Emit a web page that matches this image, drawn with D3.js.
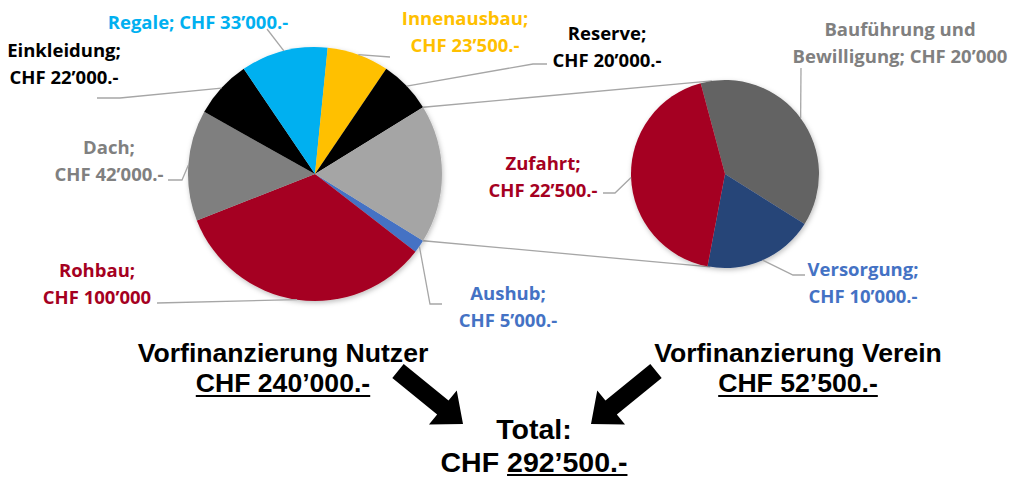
<!DOCTYPE html>
<html>
<head>
<meta charset="utf-8">
<script src="https://cdn.jsdelivr.net/npm/d3@7"></script>
<style>
  body { margin: 0; background: #fff; }
  svg { display: block; }
</style>
</head>
<body>
<div id="chart"></div>
<script>
// Data
const mainCategories = ["Aushub", "Rohbau", "Dach", "Einkleidung", "Regale", "Innenausbau", "Reserve"];
const mainValues = [5000, 100000, 42000, 22000, 33000, 23500, 20000];
const mainLabels = [
  ["Aushub;", "CHF 5’000.-"],
  ["Rohbau;", "CHF 100’000"],
  ["Dach;", "CHF 42’000.-"],
  ["Einkleidung;", "CHF 22’000.-"],
  ["Regale; CHF 33’000.-"],
  ["Innenausbau;", "CHF 23’500.-"],
  ["Reserve;", "CHF 20’000.-"]
];
const subCategories = ["Bauführung und Bewilligung", "Versorgung", "Zufahrt"];
const subValues = [20000, 10000, 22500];
const subLabels = [
  ["Bauführung und", "Bewilligung; CHF 20’000"],
  ["Versorgung;", "CHF 10’000.-"],
  ["Zufahrt;", "CHF 22’500.-"]
];
const summaryNutzer = ["Vorfinanzierung Nutzer", "CHF 240’000.-"];
const summaryVerein = ["Vorfinanzierung Verein", "CHF 52’500.-"];
const summaryTotal = ["Total:", "CHF ", "292’500.-"];

// Styles
const sliceColors = {
  "Aushub": "#4472c4", "Rohbau": "#a50021", "Dach": "#7f7f7f", "Einkleidung": "#000000",
  "Regale": "#00b0f0", "Innenausbau": "#ffc000", "Reserve": "#000000", "other": "#a5a5a5",
  "Bauführung und Bewilligung": "#636363", "Versorgung": "#264478", "Zufahrt": "#a50021"
};
const labelColors = {
  "Aushub": "#4472c4", "Rohbau": "#a50021", "Dach": "#808080", "Einkleidung": "#000000",
  "Regale": "#00b0f0", "Innenausbau": "#ffc000", "Reserve": "#000000",
  "Bauführung und Bewilligung": "#808080", "Versorgung": "#4472c4", "Zufahrt": "#a50021"
};
// label layout: centre x, first baseline, leader points from the label towards the slice
const labelLayout = {
  "Aushub": { x: 508, y: 300, leader: [[442, 304], [430, 304]] },
  "Rohbau": { x: 97, y: 277, leader: [[157, 303]] },
  "Dach": { x: 109, y: 154, leader: [[168, 180], [182, 180]] },
  "Einkleidung": { x: 64, y: 57, leader: [[97, 98], [120, 98]] },
  "Regale": { x: 198, y: 29, leader: [[267, 29]] },
  "Innenausbau": { x: 465, y: 25, leader: [[390, 57]] },
  "Reserve": { x: 607, y: 40, leader: [[547, 64], [533, 64]] },
  "Bauführung und Bewilligung": { x: 900, y: 36, leader: [[801, 68]] },
  "Versorgung": { x: 863, y: 276, leader: [[805, 275], [793, 275]] },
  "Zufahrt": { x: 543, y: 170, leader: [[603, 193], [615, 193]] }
};

const width = 1009, height = 477;
const lineHeight = 26.5;
const labelFont = "'Open Sans', 'Noto Sans', sans-serif";
const boxFont = "'Liberation Sans', Arial, sans-serif";

const svg = d3.select("#chart")
  .append("svg")
  .attr("width", width)
  .attr("height", height)
  .attr("viewBox", `0 0 ${width} ${height}`);

const filter = svg.append("defs").append("filter")
  .attr("id", "shadow")
  .attr("x", "-20%").attr("y", "-20%")
  .attr("width", "140%").attr("height", "140%");
filter.append("feDropShadow")
  .attr("dx", 1).attr("dy", 2)
  .attr("stdDeviation", 2.5)
  .attr("flood-color", "#000")
  .attr("flood-opacity", 0.25);

const mainPieDims = { cx: 315, cy: 174, r: 127 };
const subPieDims = { cx: 725, cy: 174, r: 94 };

const point = (dims, angle, r = dims.r) =>
  [dims.cx + r * Math.sin(angle), dims.cy - r * Math.cos(angle)];

// Main pie
const otherValue = d3.sum(subValues);
const mainData = mainCategories.map((c, i) => ({ name: c, value: mainValues[i], label: mainLabels[i] }))
  .concat([{ name: "other", value: otherValue }]);
const otherAngle = otherValue / d3.sum(mainData, d => d.value) * 2 * Math.PI;
const mainStart = Math.PI / 2 + otherAngle / 2;
const mainArcs = d3.pie().sort(null).value(d => d.value)
  .startAngle(mainStart).endAngle(mainStart + 2 * Math.PI)(mainData);

// Secondary pie
const subData = subCategories.map((c, i) => ({ name: c, value: subValues[i], label: subLabels[i] }));
const subStart = -15 * Math.PI / 180;
const subArcs = d3.pie().sort(null).value(d => d.value)
  .startAngle(subStart).endAngle(subStart + 2 * Math.PI)(subData);

// Connector lines between the pies
const otherArc = mainArcs.find(d => d.data.name === "other");
const connectors = [
  [point(mainPieDims, otherArc.startAngle), point(subPieDims, -8 * Math.PI / 180)],
  [point(mainPieDims, otherArc.endAngle), point(subPieDims, 189 * Math.PI / 180)]
];
svg.append("g")
  .selectAll("line")
  .data(connectors)
  .join("line")
  .attr("x1", d => d[0][0]).attr("y1", d => d[0][1])
  .attr("x2", d => d[1][0]).attr("y2", d => d[1][1])
  .attr("stroke", "#a6a6a6")
  .attr("stroke-width", 1.3);

function drawPie(arcs, dims) {
  const arc = d3.arc().innerRadius(0).outerRadius(dims.r);
  svg.append("g")
    .attr("transform", `translate(${dims.cx}, ${dims.cy})`)
    .attr("filter", "url(#shadow)")
    .selectAll("path")
    .data(arcs)
    .join("path")
    .attr("d", arc)
    .attr("fill", d => sliceColors[d.data.name]);

  const labelled = arcs.filter(d => d.data.label);

  // leader lines
  svg.append("g")
    .selectAll("path")
    .data(labelled)
    .join("path")
    .attr("d", d => {
      const mid = (d.startAngle + d.endAngle) / 2;
      const pts = labelLayout[d.data.name].leader.concat([point(dims, mid)]);
      return d3.line()(pts);
    })
    .attr("fill", "none")
    .attr("stroke", "#a6a6a6")
    .attr("stroke-width", 1.3);

  // labels
  const texts = svg.append("g")
    .selectAll("text")
    .data(labelled)
    .join("text")
    .attr("text-anchor", "middle")
    .attr("font-family", labelFont)
    .attr("font-weight", 700)
    .attr("font-size", 18.5)
    .attr("fill", d => labelColors[d.data.name]);

  texts.selectAll("tspan")
    .data(d => d.data.label.map((t, i) => ({ t, i, pos: labelLayout[d.data.name] })))
    .join("tspan")
    .attr("x", d => d.pos.x)
    .attr("y", d => d.pos.y + d.i * lineHeight)
    .text(d => d.t);
}

drawPie(mainArcs, mainPieDims);
drawPie(subArcs, subPieDims);

// Summary block
function underline(x1, x2, y) {
  svg.append("line")
    .attr("x1", x1).attr("x2", x2)
    .attr("y1", y).attr("y2", y)
    .attr("stroke", "#000")
    .attr("stroke-width", 2);
}

function summary(lines, cx, y, size) {
  const g = svg.append("g")
    .attr("font-family", boxFont)
    .attr("font-weight", 700)
    .attr("font-size", size)
    .attr("text-anchor", "middle");
  g.append("text").attr("x", cx).attr("y", y).text(lines[0]);
  const second = g.append("text").attr("x", cx).attr("y", y + 30).text(lines[1]);
  const w = second.node().getComputedTextLength();
  underline(cx - w / 2, cx + w / 2, y + 34);
}
summary(summaryNutzer, 283, 362, 26.6);
summary(summaryVerein, 798, 362, 26.6);

const totalG = svg.append("g")
  .attr("font-family", boxFont)
  .attr("font-weight", 700)
  .attr("font-size", 28.5)
  .attr("text-anchor", "middle");
totalG.append("text").attr("x", 534).attr("y", 439).text(summaryTotal[0]);
const totalLine = totalG.append("text").attr("x", 534).attr("y", 472);
totalLine.append("tspan").text(summaryTotal[1]);
totalLine.append("tspan").text(summaryTotal[2]);
{
  const node = totalLine.node();
  const w = node.getComputedTextLength();
  const pre = node.getSubStringLength(0, summaryTotal[1].length);
  underline(534 - w / 2 + pre, 534 + w / 2, 475);
}

// Arrows
function arrowPath(x0, y0, x1, y1, shaftW, headW, headL) {
  const len = Math.hypot(x1 - x0, y1 - y0);
  const ux = (x1 - x0) / len, uy = (y1 - y0) / len;
  const nx = -uy, ny = ux;
  const bx = x1 - ux * headL, by = y1 - uy * headL;
  const pts = [
    [x0 + nx * shaftW / 2, y0 + ny * shaftW / 2],
    [bx + nx * shaftW / 2, by + ny * shaftW / 2],
    [bx + nx * headW / 2, by + ny * headW / 2],
    [x1, y1],
    [bx - nx * headW / 2, by - ny * headW / 2],
    [bx - nx * shaftW / 2, by - ny * shaftW / 2],
    [x0 - nx * shaftW / 2, y0 - ny * shaftW / 2]
  ];
  return d3.line()(pts) + "Z";
}
const arrows = [[398, 371, 463, 424], [656, 371, 591, 424]];
svg.append("g")
  .selectAll("path")
  .data(arrows)
  .join("path")
  .attr("d", d => arrowPath(d[0], d[1], d[2], d[3], 18, 44, 26))
  .attr("fill", "#000");
</script>
</body>
</html>
